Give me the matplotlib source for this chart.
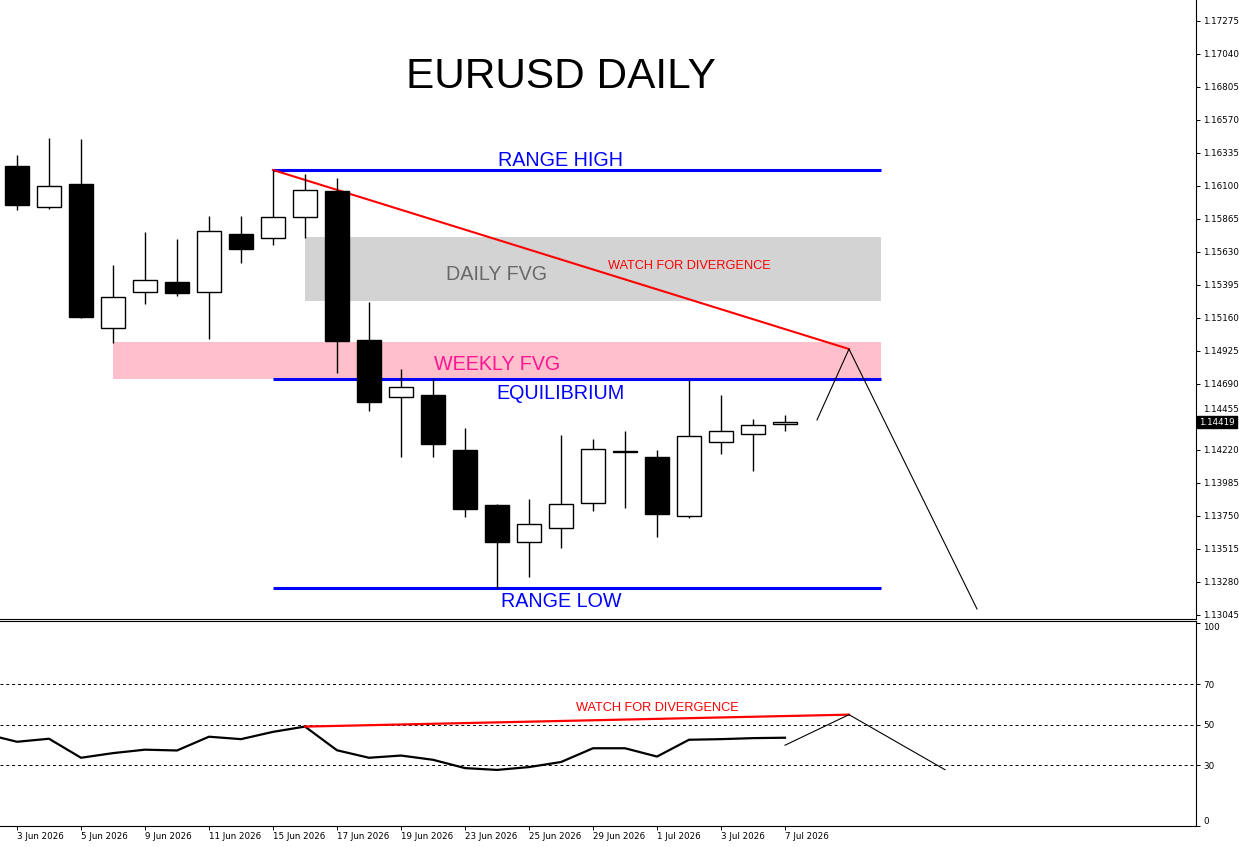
import matplotlib
matplotlib.use('Agg')
import matplotlib.pyplot as plt
from matplotlib.patches import Rectangle
import matplotlib.transforms as mtransforms

# ---------------- data ----------------
dates = ['3 Jun 2026', '4 Jun 2026', '5 Jun 2026', '8 Jun 2026', '9 Jun 2026',
         '10 Jun 2026', '11 Jun 2026', '12 Jun 2026', '15 Jun 2026', '16 Jun 2026',
         '17 Jun 2026', '18 Jun 2026', '19 Jun 2026', '22 Jun 2026', '23 Jun 2026',
         '24 Jun 2026', '25 Jun 2026', '26 Jun 2026', '29 Jun 2026', '30 Jun 2026',
         '1 Jul 2026', '2 Jul 2026', '3 Jul 2026', '6 Jul 2026', '7 Jul 2026']
opens = [1.16242, 1.15948, 1.16114, 1.15087, 1.15343, 1.15414, 1.15343, 1.15756,
         1.15727, 1.15881, 1.16064, 1.15003, 1.14595, 1.14610, 1.14220, 1.13828,
         1.13563, 1.13662, 1.13840, 1.14210, 1.14170, 1.13748, 1.14275, 1.14332,
         1.14403]
highs = [1.16321, 1.16440, 1.16433, 1.15537, 1.15772, 1.15723, 1.15884, 1.15884,
         1.16214, 1.16185, 1.16155, 1.15272, 1.14795, 1.14722, 1.14374, 1.13835,
         1.13871, 1.14327, 1.14298, 1.14355, 1.14220, 1.14719, 1.14612, 1.14441,
         1.14469]
lows = [1.15929, 1.15934, 1.15162, 1.14984, 1.15258, 1.15319, 1.15010, 1.15554,
        1.15680, 1.15733, 1.14765, 1.14500, 1.14167, 1.14172, 1.13745, 1.13237,
        1.13318, 1.13524, 1.13788, 1.13809, 1.13603, 1.13734, 1.14194, 1.14073,
        1.14357]
closes = [1.15967, 1.16098, 1.15169, 1.15307, 1.15428, 1.15340, 1.15777, 1.15653,
          1.15877, 1.16069, 1.14998, 1.14564, 1.14666, 1.14265, 1.13802, 1.13567,
          1.13691, 1.13833, 1.14225, 1.14206, 1.13766, 1.14318, 1.14355, 1.14396,
          1.14419]

# RSI values (first value belongs to the session before 3 Jun)
rsi_x = list(range(-1, 25))
rsi_values = [45.4, 41.5, 43.0, 33.6, 35.9, 37.6, 37.2, 44.0, 42.8, 46.4, 49.0,
              37.3, 33.6, 34.7, 32.6, 28.5, 27.6, 29.0, 31.5, 38.3, 38.3, 34.2,
              42.5, 42.8, 43.3, 43.5]

price_ticks = [1.13045 + 0.00235 * n for n in range(19)]
rsi_ticks = [0, 30, 50, 70, 100]
rsi_levels = [30, 50, 70]

range_high = 1.16214
equilibrium = 1.14726
range_low = 1.13237
weekly_fvg = (1.14726, 1.14989)
daily_fvg = (1.15278, 1.15737)
trend_x = [8, 26]
trend_y = [1.16214, 1.14939]
proj_x = [25, 26, 30]
proj_y = [1.14434, 1.14939, 1.13088]
div_x = [9, 26]
div_y = [49.0, 54.9]
rsi_proj_x = [24, 26, 29]
rsi_proj_y = [39.8, 54.9, 27.7]
last_price = 1.14419

# ---------------- figure ----------------
W, H = 1239, 847
fig = plt.figure(figsize=(W / 100, H / 100), dpi=100)
fig.patch.set_facecolor('white')

main_bottom = 618.5
rsi_top = 620.5
rsi_bottom = 826
right_px = 1196

ax = fig.add_axes([0, 1 - main_bottom / H, right_px / W, main_bottom / H])
ax2 = fig.add_axes([0, 1 - rsi_bottom / H, right_px / W, (rsi_bottom - rsi_top) / H])

xmin, xmax = -17 / 32, (right_px - 17) / 32
ax.set_xlim(xmin, xmax)
ax.set_ylim(1.13020, 1.174245)
ax2.set_xlim(xmin, xmax)
ax2.set_ylim(-0.1, 101.4)

txt_font = ['Liberation Sans', 'DejaVu Sans']

# zones
ax.add_patch(Rectangle((3, weekly_fvg[0]), 24, weekly_fvg[1] - weekly_fvg[0],
                       facecolor='#FFC0CB', edgecolor='none', zorder=1))
ax.add_patch(Rectangle((9, daily_fvg[0]), 18, daily_fvg[1] - daily_fvg[0],
                       facecolor='#D3D3D3', edgecolor='none', zorder=1))

# levels
for lvl in (range_high, equilibrium, range_low):
    ax.plot([8, 27], [lvl, lvl], color='#0000FF', lw=2.2, zorder=2,
            solid_capstyle='butt')
ax.plot(trend_x, trend_y, color='#FF0000', lw=1.5, zorder=2)
ax.plot(proj_x, proj_y, color='black', lw=0.8, zorder=2)

# candles
bw = 0.75
for i in range(len(dates)):
    o, h, l, c = opens[i], highs[i], lows[i], closes[i]
    ax.plot([i, i], [l, h], color='black', lw=1.0, zorder=3, solid_capstyle='butt')
    fc = 'black' if c < o else 'white'
    ax.add_patch(Rectangle((i - bw / 2, min(o, c)), bw, max(abs(c - o), 0.00002),
                           facecolor=fc, edgecolor='black', lw=1.0, zorder=4))

# texts
ax.text(17, 1.16800, 'EURUSD DAILY', fontsize=30.5, family=txt_font,
        ha='center', va='baseline', color='black', zorder=6)
ax.text(17, 1.16242, 'RANGE HIGH', fontsize=14.2, family=txt_font,
        ha='center', va='baseline', color='#0000FF', zorder=6)
ax.text(15, 1.15431, 'DAILY FVG', fontsize=14.2, family=txt_font,
        ha='center', va='baseline', color='#696969', zorder=6)
ax.text(21, 1.15512, 'WATCH FOR DIVERGENCE', fontsize=9.2, family=txt_font,
        ha='center', va='baseline', color='#FF0000', zorder=6)
ax.text(15, 1.14790, 'WEEKLY FVG', fontsize=14.2, family=txt_font,
        ha='center', va='baseline', color='#FF1493', zorder=6)
ax.text(17, 1.14583, 'EQUILIBRIUM', fontsize=14.2, family=txt_font,
        ha='center', va='baseline', color='#0000FF', zorder=6)
ax.text(17, 1.13102, 'RANGE LOW', fontsize=14.2, family=txt_font,
        ha='center', va='baseline', color='#0000FF', zorder=6)

# price axis
for s in ('top', 'left'):
    ax.spines[s].set_visible(False)
for s in ('right', 'bottom'):
    ax.spines[s].set_linewidth(0.8)
ax.set_xticks([])
ax.yaxis.tick_right()
ax.set_yticks(price_ticks)
ax.set_yticklabels(['%.5f' % v for v in price_ticks])
ax.tick_params(axis='y', direction='out', length=3, width=0.7, pad=2,
               labelsize=6.3, colors='black')
# the tick label sitting under the last-price box is nudged up, as in the reference
for lab, v in zip(ax.get_yticklabels(), price_ticks):
    if abs(v - 1.14455) < 1e-6:
        lab.set_va('bottom')
        lab.set_transform(lab.get_transform() +
                          mtransforms.ScaledTranslation(0, 2.5 / 72, fig.dpi_scale_trans))

# last price box
trans = mtransforms.blended_transform_factory(ax.transAxes, ax.transData)
ax.annotate('%.5f' % last_price, xy=(1.0, last_price), xycoords=trans,
            xytext=(2.2, 0), textcoords='offset points', fontsize=6.3,
            color='white', ha='left', va='center', annotation_clip=False, zorder=20,
            bbox=dict(boxstyle='square,pad=0.22', facecolor='black', edgecolor='black'))

# ---------------- RSI ----------------
for lvl in rsi_levels:
    ax2.plot([xmin, xmax], [lvl, lvl], color='black', lw=0.7,
             dashes=(3, 3), zorder=1)
ax2.plot(rsi_x, rsi_values, color='black', lw=1.6, zorder=3)
ax2.plot(div_x, div_y, color='#FF0000', lw=1.6, zorder=3)
ax2.plot(rsi_proj_x, rsi_proj_y, color='black', lw=0.8, zorder=3)
ax2.text(20, 56.9, 'WATCH FOR DIVERGENCE', fontsize=9.2, family=txt_font,
         ha='center', va='baseline', color='#FF0000', zorder=6)

ax2.spines['left'].set_visible(False)
for s in ('right', 'bottom', 'top'):
    ax2.spines[s].set_linewidth(0.8)
ax2.yaxis.tick_right()
ax2.set_yticks(rsi_ticks)
ax2.set_yticklabels([str(v) for v in rsi_ticks])
ax2.tick_params(axis='y', direction='out', length=3, width=0.7, pad=2,
                labelsize=6.3, colors='black')
ylabels = ax2.get_yticklabels()
ylabels[0].set_va('bottom')
ylabels[-1].set_va('top')

xt = list(range(0, len(dates), 2))
ax2.set_xticks(xt)
ax2.set_xticklabels([dates[i] for i in xt])
for lab in ax2.get_xticklabels():
    lab.set_ha('left')
ax2.tick_params(axis='x', direction='out', length=3, width=0.7, pad=1.5,
                labelsize=6.3, colors='black')

fig.savefig('out.png', dpi=100)
